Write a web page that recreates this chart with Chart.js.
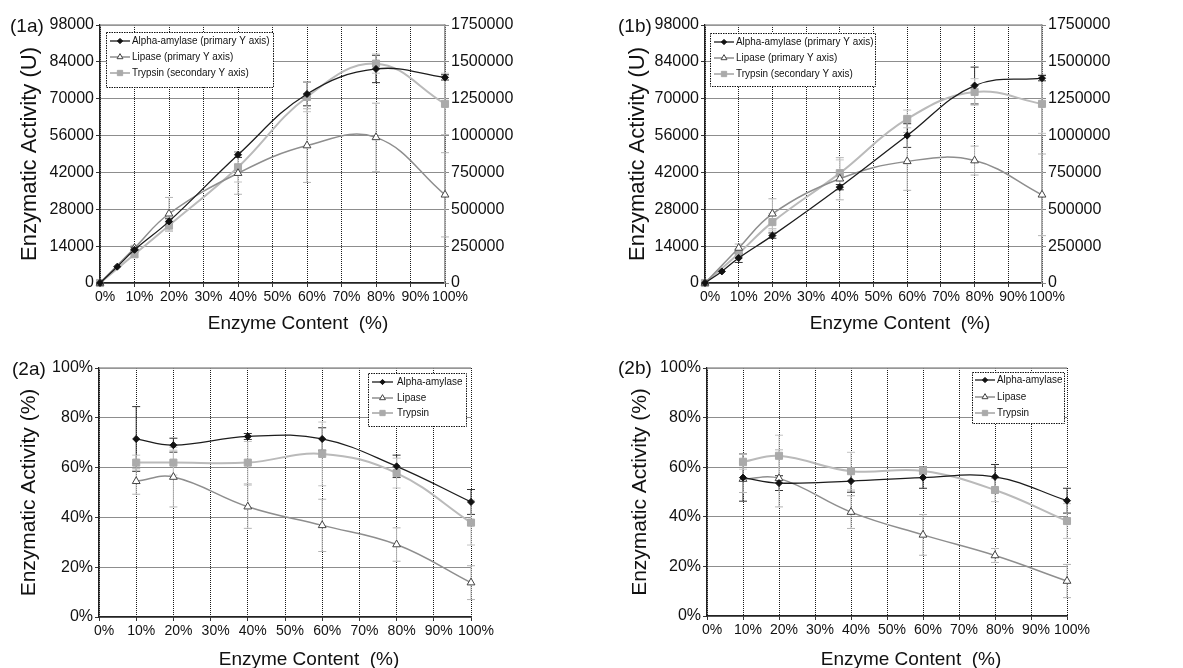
<!DOCTYPE html>
<html><head><meta charset="utf-8">
<script src="https://cdn.jsdelivr.net/npm/chart.js@4.4.1/dist/chart.umd.min.js"></script>
<style>
html,body{margin:0;padding:0;background:#fff;}
body{width:1183px;height:668px;position:relative;overflow:hidden;font-family:'Liberation Sans',Arial,sans-serif;}
canvas{position:absolute;}
.lbl{position:absolute;font-size:19px;color:#111;white-space:nowrap;line-height:1;}
.ttl{position:absolute;font-size:19px;color:#111;white-space:pre;line-height:1;transform:translate(-50%,-50%);}
</style></head><body>
<canvas id="c1a" width="590" height="334" style="left:0;top:0;width:590px;height:334px"></canvas>
<canvas id="c1b" width="593" height="334" style="left:590px;top:0;width:593px;height:334px"></canvas>
<canvas id="c2a" width="590" height="334" style="left:0;top:334px;width:590px;height:334px"></canvas>
<canvas id="c2b" width="593" height="334" style="left:590px;top:334px;width:593px;height:334px"></canvas>
<div class="lbl" style="left:10px;top:16px">(1a)</div>
<div class="lbl" style="left:618px;top:16px">(1b)</div>
<div class="lbl" style="left:12px;top:359px">(2a)</div>
<div class="lbl" style="left:618px;top:358px">(2b)</div>
<div class="ttl" style="left:298px;top:322px">Enzyme Content  (%)</div>
<div class="ttl" style="left:900px;top:322px">Enzyme Content  (%)</div>
<div class="ttl" style="left:309px;top:658px">Enzyme Content  (%)</div>
<div class="ttl" style="left:911px;top:658px">Enzyme Content  (%)</div>
<script>
// ---------- data ----------
const xAlphaU = [0, 5, 10, 20, 40, 60, 80, 100];
const xOtherU = [0, 10, 20, 40, 60, 80, 100];
const xPct = [10, 20, 40, 60, 80, 100];

const xTickLabels = ['0%','10%','20%','30%','40%','50%','60%','70%','80%','90%','100%'];
const yTicksU = [0, 14000, 28000, 42000, 56000, 70000, 84000, 98000];
const yTicksSec = [0, 250000, 500000, 750000, 1000000, 1250000, 1500000, 1750000];
const yTicksPct = [0, 20, 40, 60, 80, 100];

const namesU = ['Alpha-amylase (primary Y axis)', 'Lipase (primary Y axis)', 'Trypsin (secondary Y axis)'];
const namesPct = ['Alpha-amylase', 'Lipase', 'Trypsin'];

// (1a)
const alpha1a = [0, 6200, 12600, 23400, 48700, 71800, 81300, 78100];
const alphaErr1a = [0, 0, 800, 1200, 1000, 4500, 5200, 1000];
const lipase1a = [0, 13300, 26300, 41700, 52200, 55300, 33500];
const lipaseErr1a = [0, 1000, 6200, 8000, 14000, 13000, 16000];
const trypsin1a = [0, 195000, 390000, 785000, 1262000, 1488000, 1215000];
const trypsinErr1a = [0, 20000, 40000, 100000, 100000, 65000, 208000];

// (1b)
const alpha1b = [0, 4400, 9500, 18000, 36400, 56000, 75000, 77800];
const alphaErr1b = [0, 0, 1700, 1000, 1000, 4500, 7000, 1000];
const lipase1b = [0, 13300, 26300, 39600, 46200, 46500, 33500];
const lipaseErr1b = [0, 1500, 5700, 8000, 11000, 5500, 15500];
const trypsin1b = [0, 200000, 413000, 745000, 1113000, 1296000, 1215000];
const trypsinErr1b = [0, 30000, 60000, 90000, 60000, 90000, 200000];

// (2a)
const alpha2a = [71.5, 69.0, 72.5, 71.5, 60.5, 46.2];
const alphaErr2a = [13, 2.8, 1.2, 4.5, 4.5, 5];
const lipase2a = [54.5, 56.2, 44.3, 36.8, 29.1, 13.8];
const lipaseErr2a = [5.2, 12, 8.7, 10.5, 6.7, 6.8];
const trypsin2a = [62, 62, 62, 65.5, 57.8, 37.9];
const trypsinErr2a = [3, 5, 8.5, 12.8, 6, 9];

// (2b)
const alpha2b = [55.8, 53.6, 54.4, 55.8, 56.1, 46.5];
const alphaErr2b = [9.5, 3, 4.5, 4.3, 5, 5];
const lipase2b = [55.2, 55.5, 41.9, 32.7, 24.4, 14.1];
const lipaseErr2b = [5.4, 11.5, 6.6, 8.2, 2.8, 6.7];
const trypsin2b = [62.2, 64.6, 58.4, 58.5, 50.8, 38.3];
const trypsinErr2b = [3, 8.3, 7.6, 1.5, 4.7, 7];

// ---------- styling ----------
const F = "'Liberation Sans', Arial, sans-serif";
Chart.defaults.font.family = F;
const GRID = '#1a1a1a';
const STY = [
  {line:'#1c1c1c', lw:1.3, ps:'rectRot', pr:3.5, pf:'#111', pb:'#111', err:'#333'},
  {line:'#8e8e8e', lw:1.5, ps:'triangle', pr:4.5, pf:'#fff', pb:'#444', err:'#b5b5b5'},
  {line:'#bababa', lw:2, ps:'rect', pr:5, pf:'#aaaaaa', pb:'#aaaaaa', err:'#c4c4c4'}
];

function drawMarker(ctx, st, x, y, r) {
  ctx.save();
  ctx.fillStyle = st.pf; ctx.strokeStyle = st.pb; ctx.lineWidth = 1;
  ctx.beginPath();
  if (st.ps === 'rectRot') {
    ctx.moveTo(x, y - r); ctx.lineTo(x + r, y); ctx.lineTo(x, y + r); ctx.lineTo(x - r, y); ctx.closePath();
  } else if (st.ps === 'triangle') {
    ctx.moveTo(x, y - r); ctx.lineTo(x + r * 0.87, y + r * 0.5); ctx.lineTo(x - r * 0.87, y + r * 0.5); ctx.closePath();
  } else {
    const s = r * Math.SQRT1_2; ctx.rect(x - s, y - s, 2 * s, 2 * s);
  }
  ctx.fill(); ctx.stroke();
  ctx.restore();
}

const errorBars = {
  id: 'errorBars',
  beforeDatasetsDraw(chart) {
    const ctx = chart.ctx;
    chart.data.datasets.forEach((ds, di) => {
      if (!ds.errors) return;
      const meta = chart.getDatasetMeta(di);
      const ys = chart.scales[ds.yAxisID];
      ctx.save();
      ctx.strokeStyle = ds.errorColor; ctx.lineWidth = 1;
      ds.data.forEach((p, i) => {
        const e = ds.errors[i]; if (!e) return;
        const x = meta.data[i].x;
        const y1 = ys.getPixelForValue(p.y + e), y2 = ys.getPixelForValue(p.y - e);
        ctx.beginPath();
        ctx.moveTo(x, y1); ctx.lineTo(x, y2);
        ctx.moveTo(x - 4, y1); ctx.lineTo(x + 4, y1);
        ctx.moveTo(x - 4, y2); ctx.lineTo(x + 4, y2);
        ctx.stroke();
      });
      ctx.restore();
    });
  }
};

const frame = {
  id: 'frame',
  afterDatasetsDraw(chart) {
    const a = chart.chartArea, ctx = chart.ctx;
    ctx.save();
    ctx.strokeStyle = '#9a9a9a'; ctx.lineWidth = 1.5;
    ctx.beginPath(); ctx.moveTo(a.left, a.top); ctx.lineTo(a.right, a.top); ctx.stroke();
    ctx.restore();
  }
};

const boxLegend = {
  id: 'boxLegend',
  afterDraw(chart, args, o) {
    if (!o || !o.w) return;
    const ctx = chart.ctx;
    ctx.save();
    ctx.fillStyle = '#fff'; ctx.fillRect(o.x, o.y, o.w, o.h);
    ctx.setLineDash([1.5, 1]); ctx.strokeStyle = '#111'; ctx.lineWidth = 1;
    ctx.strokeRect(o.x + 0.5, o.y + 0.5, o.w, o.h);
    ctx.setLineDash([]);
    chart.data.datasets.forEach((ds, i) => {
      const y = o.rows[i];
      const st = STY[i];
      ctx.strokeStyle = st.line; ctx.lineWidth = st.lw;
      ctx.beginPath(); ctx.moveTo(o.sx, y); ctx.lineTo(o.sx + o.len, y); ctx.stroke();
      drawMarker(ctx, st, o.sx + o.len / 2, y, st.pr * 0.75);
      ctx.save();
      ctx.fillStyle = '#111'; ctx.font = o.font; ctx.textBaseline = 'middle'; ctx.textAlign = 'left';
      ctx.translate(o.tx, y); ctx.scale(0.9, 1);
      ctx.fillText(ds.label, 0, 0);
      ctx.restore();
    });
    ctx.restore();
  }
};

function series(name, k, xs, ys, errs, axis) {
  const st = STY[k];
  return {
    label: name, data: xs.map((x, i) => ({x: x, y: ys[i]})), errors: errs, errorColor: st.err,
    yAxisID: axis, borderColor: st.line, borderWidth: st.lw, pointStyle: st.ps, pointRadius: st.pr,
    pointBackgroundColor: st.pf, pointBorderColor: st.pb, pointBorderWidth: 1, showLine: true,
    tension: 0.4, clip: false, fill: false
  };
}

function yScale(ticks, fmt, extra) {
  return Object.assign({
    type: 'linear', min: ticks[0], max: ticks[ticks.length - 1],
    ticks: {stepSize: ticks[1] - ticks[0], font: {size: 16}, color: '#111', padding: 2, callback: fmt},
  }, extra);
}

function panel(id, p) {
  const scales = {
    x: {
      type: 'linear', min: 0, max: 100,
      ticks: {stepSize: 10, autoSkip: false, maxRotation: 0, minRotation: 0, labelOffset: 5, padding: 2,
        font: {size: 14}, color: '#111', callback: (v) => xTickLabels[Math.round(v / 10)]},
      grid: {color: GRID, lineWidth: 1, tickLength: 4, tickColor: '#333'},
      border: {color: '#222', width: 1.5, dash: [1, 1]},
      afterFit: (s) => { s.height = p.xh; }
    },
    y: yScale(p.yTicks, p.yFmt, {
      position: 'left',
      grid: {color: GRID, lineWidth: 1, tickLength: 4, tickColor: '#333'},
      border: {color: '#222', width: 1.5, dash: [1, 1]},
      title: {display: true, text: p.yTitle, color: '#111', font: {size: p.yTitleSize, lineHeight: 1}, padding: {top: p.tp, bottom: 0}},
      afterFit: (s) => { s.width = p.yw; }
    })
  };
  if (p.y2Ticks) {
    scales.y2 = yScale(p.y2Ticks, (v) => String(v), {
      position: 'right',
      grid: {drawOnChartArea: false, tickLength: 4, tickColor: '#888', color: '#888'},
      border: {color: '#9a9a9a', width: 1.5},
      afterFit: (s) => { s.width = p.y2w; }
    });
  }
  new Chart(document.getElementById(id), {
    type: 'scatter',
    data: {datasets: p.datasets},
    options: {
      responsive: false, animation: false, events: [],
      layout: {padding: {top: p.pt, left: 0, right: p.pr, bottom: 0}},
      scales: scales,
      plugins: {legend: {display: false}, tooltip: {enabled: false}, boxLegend: p.legend}
    },
    plugins: [errorBars, frame, boxLegend]
  });
}

const fmtU = (v) => String(v);
const fmtPct = (v) => v + '%';

panel('c1a', {
  datasets: [
    series(namesU[0], 0, xAlphaU, alpha1a, alphaErr1a, 'y'),
    series(namesU[1], 1, xOtherU, lipase1a, lipaseErr1a, 'y'),
    series(namesU[2], 2, xOtherU, trypsin1a, trypsinErr1a, 'y2')
  ],
  yTicks: yTicksU, yFmt: fmtU, y2Ticks: yTicksSec, yTitle: 'Enzymatic Activity (U)', yTitleSize: 22, tp: 19,
  yw: 100, y2w: 145, xh: 51, pt: 25, pr: 0,
  legend: {x: 106, y: 32, w: 167, h: 55, rows: [41, 57, 73], sx: 110, len: 20, tx: 132, font: '11px ' + F}
});

panel('c1b', {
  datasets: [
    series(namesU[0], 0, xAlphaU, alpha1b, alphaErr1b, 'y'),
    series(namesU[1], 1, xOtherU, lipase1b, lipaseErr1b, 'y'),
    series(namesU[2], 2, xOtherU, trypsin1b, trypsinErr1b, 'y2')
  ],
  yTicks: yTicksU, yFmt: fmtU, y2Ticks: yTicksSec, yTitle: 'Enzymatic Activity (U)', yTitleSize: 22, tp: 37,
  yw: 115, y2w: 141, xh: 51, pt: 25, pr: 0,
  legend: {x: 120, y: 33, w: 165, h: 53, rows: [42, 58, 74], sx: 124, len: 20, tx: 146, font: '11px ' + F}
});

panel('c2a', {
  datasets: [
    series(namesPct[0], 0, xPct, alpha2a, alphaErr2a, 'y'),
    series(namesPct[1], 1, xPct, lipase2a, lipaseErr2a, 'y'),
    series(namesPct[2], 2, xPct, trypsin2a, trypsinErr2a, 'y')
  ],
  yTicks: yTicksPct, yFmt: fmtPct, yTitle: 'Enzymatic Activity (%)', yTitleSize: 21, tp: 19,
  yw: 99, xh: 51, pt: 34, pr: 119,
  legend: {x: 368, y: 39, w: 98, h: 53, rows: [48, 64, 79], sx: 372, len: 21, tx: 397, font: '11px ' + F}
});

panel('c2b', {
  datasets: [
    series(namesPct[0], 0, xPct, alpha2b, alphaErr2b, 'y'),
    series(namesPct[1], 1, xPct, lipase2b, lipaseErr2b, 'y'),
    series(namesPct[2], 2, xPct, trypsin2b, trypsinErr2b, 'y')
  ],
  yTicks: yTicksPct, yFmt: fmtPct, yTitle: 'Enzymatic Activity (%)', yTitleSize: 21, tp: 40,
  yw: 117, xh: 52, pt: 34, pr: 116,
  legend: {x: 382, y: 38, w: 92, h: 51, rows: [46, 63, 79], sx: 385, len: 20, tx: 407, font: '11px ' + F}
});
</script>
</body></html>
